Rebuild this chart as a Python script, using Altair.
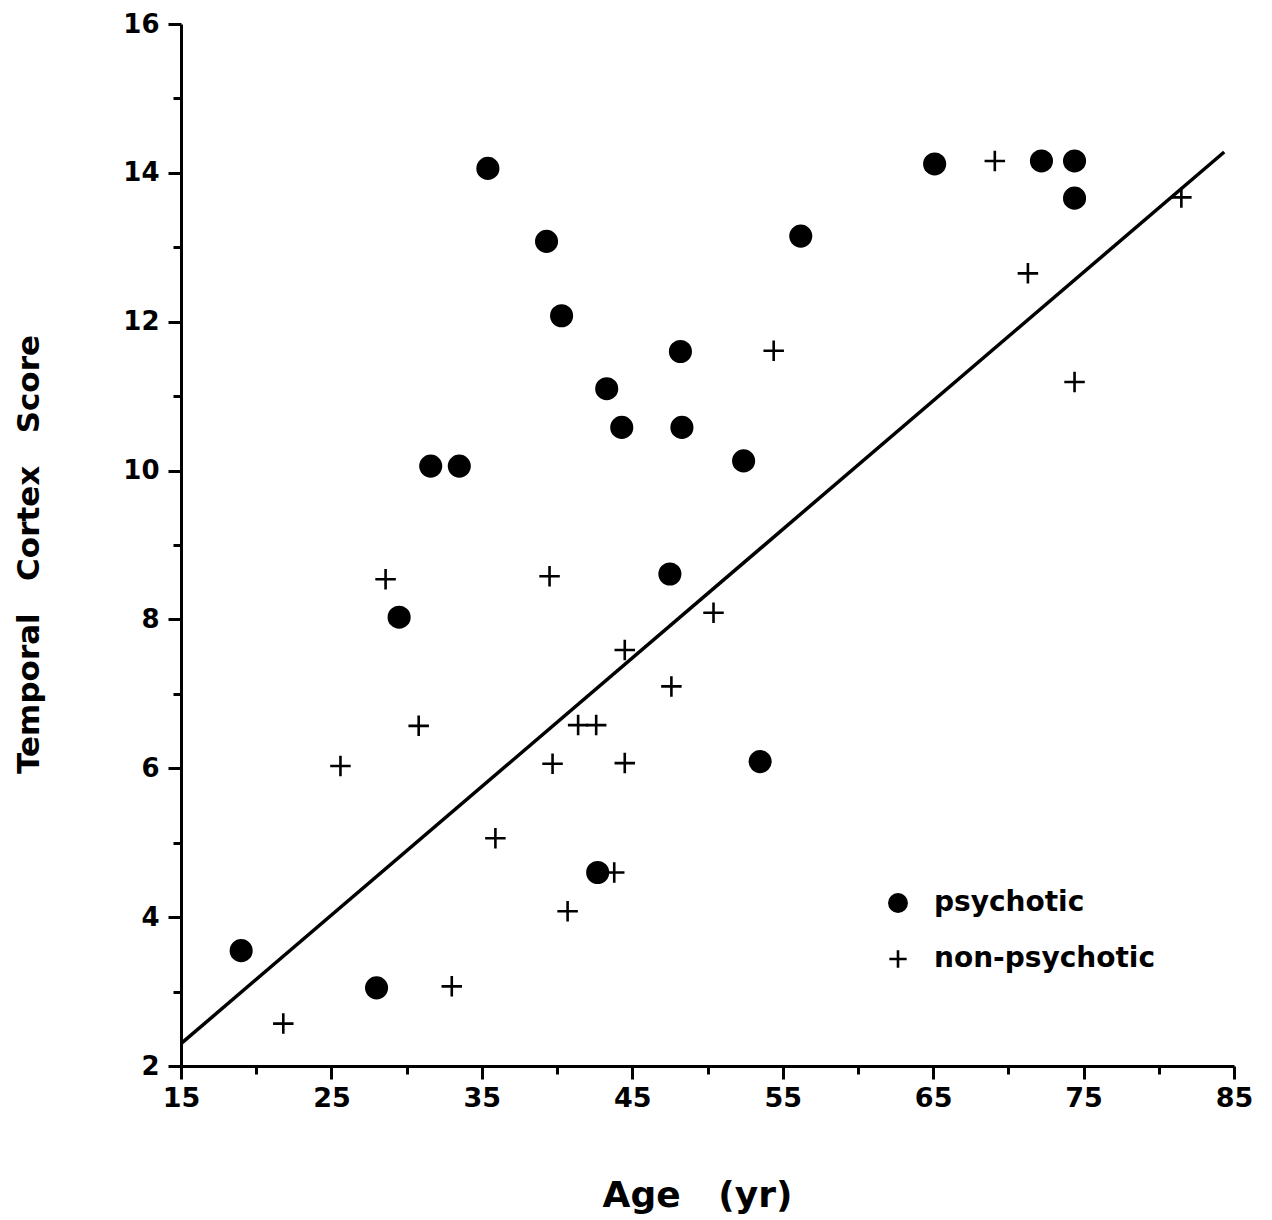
import altair as alt
import pandas as pd

# Psychotic subjects (filled circles)
psy_age = [19.0, 28.0, 29.5, 31.6, 33.5, 35.4, 39.3, 40.3, 43.3, 44.3, 48.2,
           48.3, 52.4, 47.5, 53.5, 42.7, 56.2, 65.1, 72.2, 74.4, 74.4]
psy_score = [3.55, 3.05, 8.03, 10.06, 10.06, 14.06, 13.08, 12.08, 11.1, 10.58, 11.6,
             10.58, 10.13, 8.61, 6.09, 4.6, 13.15, 14.12, 14.16, 14.16, 13.66]

# Non-psychotic subjects (crosses)
non_age = [21.8, 25.6, 28.6, 30.8, 33.0, 35.9, 39.5, 39.7, 40.7, 41.4, 42.6,
           43.8, 44.5, 44.5, 47.6, 50.4, 54.4, 69.1, 71.3, 74.4, 81.5]
non_score = [2.57, 6.03, 8.54, 6.57, 3.07, 5.06, 8.58, 6.06, 4.08, 6.58, 6.58,
             4.6, 7.59, 6.07, 7.1, 8.09, 11.61, 14.16, 12.65, 11.19, 13.67]

# Fitted line end points
fit_age = [15.0, 84.35]
fit_score = [2.3, 14.28]

groups = ["psychotic", "non-psychotic"]

pts = pd.DataFrame({
    "age": psy_age + non_age,
    "score": psy_score + non_score,
    "group": [groups[0]] * len(psy_age) + [groups[1]] * len(non_age),
})
fit = pd.DataFrame({"age": fit_age, "score": fit_score})

FONT = "DejaVu Sans"
NB = "\u00a0"

x_scale = alt.Scale(domain=[15, 85], nice=False, zero=False)
y_scale = alt.Scale(domain=[2, 16], nice=False, zero=False)

x_axis = alt.Axis(
    values=list(range(15, 86, 5)), format="d",
    labelExpr="datum.value % 10 == 5 ? datum.label : ''",
    tickSize={"condition": {"test": "datum.value % 10 == 5", "value": 13}, "value": 8},
    tickWidth=3, domainWidth=3, domainColor="black", tickColor="black",
    labelFont=FONT, labelFontSize=27, labelFontWeight="bold", labelColor="black",
    labelPadding=6, labelFlush=False, grid=False,
    title="Age" + NB * 3 + "(yr)", titleFont=FONT, titleFontSize=36, titleFontWeight="bold",
    titleColor="black", titleX=516, titleY=129, titleBaseline="middle", titleAlign="center",
)

y_axis = alt.Axis(
    values=list(range(2, 17)), format="d",
    labelExpr="datum.value % 2 == 0 ? datum.label : ''",
    tickSize={"condition": {"test": "datum.value % 2 == 0", "value": 13}, "value": 8},
    tickWidth=3, domainWidth=3, domainColor="black", tickColor="black",
    labelFont=FONT, labelFontSize=26, labelFontWeight="bold", labelColor="black",
    labelPadding=9, labelFlush=False, grid=False,
    title="Temporal" + NB * 3 + "Cortex" + NB * 3 + "Score", titleFont=FONT, titleFontSize=31,
    titleFontWeight="bold", titleColor="black", titleAngle=270,
    titleX=-152, titleY=530, titleBaseline="middle", titleAlign="center",
)

legend_kw = dict(
    title=None, orient="none", legendX=703, legendY=865,
    labelFont=FONT, labelFontSize=28, labelFontWeight="bold", labelColor="black",
    labelOffset=22, rowPadding=28, labelLimit=0,
    symbolSize=300, symbolStrokeColor="black", symbolStrokeWidth=2.6,
)

points = alt.Chart(pts).mark_point(size=420, strokeWidth=2.6, opacity=1).encode(
    x=alt.X("age:Q", scale=x_scale, axis=x_axis),
    y=alt.Y("score:Q", scale=y_scale, axis=y_axis),
    shape=alt.Shape("group:N",
                    scale=alt.Scale(domain=groups, range=["circle", "M-1,0H1M0,-1V1"]),
                    legend=alt.Legend(**legend_kw)),
    fill=alt.Fill("group:N",
                  scale=alt.Scale(domain=groups, range=["black", "transparent"]),
                  legend=alt.Legend(**legend_kw)),
    stroke=alt.Stroke("group:N",
                      scale=alt.Scale(domain=groups, range=["black", "black"]),
                      legend=alt.Legend(**legend_kw)),
)

line = alt.Chart(fit).mark_line(color="black", strokeWidth=3.5).encode(
    x=alt.X("age:Q", scale=x_scale),
    y=alt.Y("score:Q", scale=y_scale),
)

chart = alt.layer(line, points).properties(
    width=1053, height=1042,
    autosize=alt.AutoSizeParams(type="none"),
    padding={"left": 173, "top": 16, "right": 30, "bottom": 150},
    background="white",
).configure_view(stroke=None)

chart.save("out.html", embed_options={"renderer": "svg", "actions": False})
